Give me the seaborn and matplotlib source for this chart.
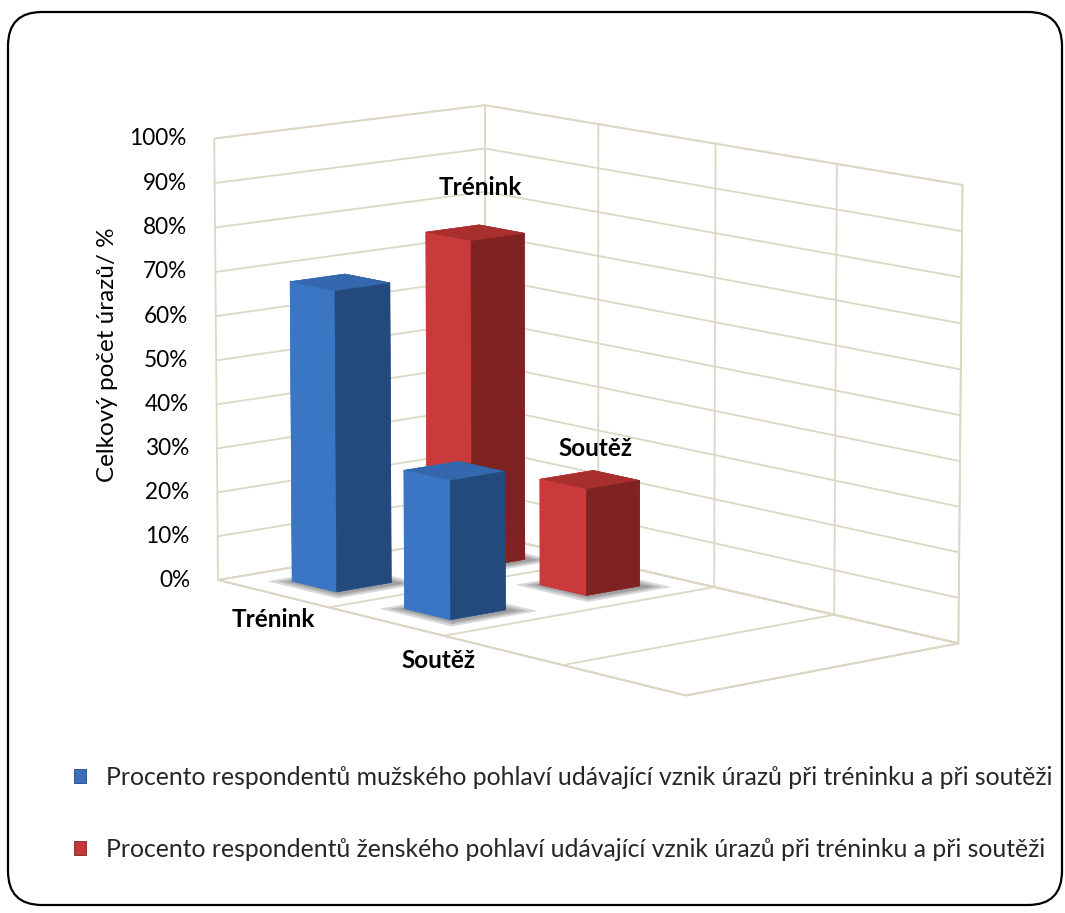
import numpy as np
import matplotlib
matplotlib.use("Agg")
import matplotlib.pyplot as plt
import seaborn as sns
from matplotlib.patches import FancyBboxPatch, Patch
from matplotlib.ticker import NullFormatter
from matplotlib.transforms import IdentityTransform
from mpl_toolkits.mplot3d import proj3d

# ---------------- data ----------------
categories = ["Trénink", "Soutěž"]
series_labels = [
    "Procento respondentů mužského pohlaví udávající vznik úrazů při tréninku a při soutěži",
    "Procento respondentů ženského pohlaví udávající vznik úrazů při tréninku a při soutěži",
]
male_share = [0.68, 0.31]
female_share = [0.75, 0.24]
z_ticks = [0.0, 0.1, 0.2, 0.3, 0.4, 0.5, 0.6, 0.7, 0.8, 0.9, 1.0]
z_tick_labels = ["0%", "10%", "20%", "30%", "40%", "50%", "60%", "70%", "80%", "90%", "100%"]
y_title = "Celkový počet úrazů/ %"

# ---------------- style ----------------
sns.set_theme(style="white")
plt.rcParams["font.family"] = ["Lato", "DejaVu Sans"]
grid_color = "#ddd7c3"
plt.rcParams["grid.color"] = grid_color
plt.rcParams["grid.linewidth"] = 1.3
plt.rcParams["grid.linestyle"] = "-"

blue = {"top": "#3467ae", "front": "#3a76c4", "side": "#24497c", "key": "#3a70b9"}
red = {"top": "#a92f2f", "front": "#cb3a3a", "side": "#7e2222", "key": "#c63636"}
series_style = [blue, red]

W, H = 1065, 913
fig = plt.figure(figsize=(W / 100, H / 100), dpi=100, facecolor="white")

ax = fig.add_axes([0.1, 0.2, 0.8, 0.8], projection="3d")
ax.patch.set_visible(False)
ax.computed_zorder = False
ax.set_proj_type("persp", focal_length=1.6)
ax.view_init(elev=10.3, azim=-41)

n_slots = 4          # category slots along the front edge
n_rows = 2           # series rows in depth
ax.set_xlim(0, n_slots)
ax.set_ylim(0, n_rows)
ax.set_zlim(0, 1)
ax.set_box_aspect((2.0, 1.0, 1.27))

ax.set_xticks(range(n_slots + 1))
ax.set_yticks([0, n_rows])
ax.set_zticks(z_ticks)
for axis in (ax.xaxis, ax.yaxis, ax.zaxis):
    axis.set_major_formatter(NullFormatter())
for a in ("x", "y", "z"):
    ax.tick_params(axis=a, colors=(0, 0, 0, 0))

for axis in (ax.xaxis, ax.yaxis, ax.zaxis):
    axis.set_pane_color((1, 1, 1, 1))
    axis.pane.set_edgecolor(grid_color)
    axis.pane.set_linewidth(1.3)
    axis.line.set_color((0, 0, 0, 0))
    axis._axinfo["grid"].update(color=grid_color, linewidth=1.3)
ax.zaxis.pane.set_edgecolor("#c9c5b6")


def face_colors(c):
    # bar3d face order: -z, +z, -y, +y, -x, +x
    return [c["front"], c["top"], c["front"], c["side"], c["front"], c["side"]]


bar_w = 0.4
shadow_w = [0.62, 0.54, 0.47]
# back row is drawn first so the front row covers it
for row, values in reversed(list(enumerate([male_share, female_share]))):
    fc = face_colors(series_style[row])
    for i, v in enumerate(values):
        cx, cy = i + 0.5, row + 0.5
        # soft contact shadow on the floor
        for sw in shadow_w:
            ax.bar3d(cx - sw / 2 + 0.03, cy - sw / 2, 0, sw, sw, 0.001,
                     color="#3a3a3a", alpha=0.10, linewidth=0,
                     shade=False, zorder=2)
        ax.bar3d(cx - bar_w / 2, cy - bar_w / 2, 0, bar_w, bar_w, v,
                 color=fc, edgecolor=fc, linewidth=0.4, shade=False,
                 zorder=3 + (1 - row))

fig.text(107 / W, 1 - 355 / H, y_title, rotation=90, ha="center",
         va="center", fontsize=17.5, color="black")

handles = [Patch(facecolor=s["key"], edgecolor=s["side"], linewidth=0.6)
           for s in series_style]
fig.legend(handles, series_labels, loc="upper left",
           bbox_to_anchor=(74 / W, 1 - 766 / H), bbox_transform=fig.transFigure,
           frameon=False, fontsize=17.8, handlelength=0.5, handleheight=0.5,
           handletextpad=0.8, labelspacing=1.97, borderpad=0, borderaxespad=0)

# rounded outer frame
frame = FancyBboxPatch((8, 8), 1054, 893, boxstyle="round,pad=0,rounding_size=34",
                       transform=IdentityTransform(), fill=False,
                       edgecolor="black", linewidth=1.6)
fig.add_artist(frame)

# place the 3D box: least-squares fit of a few box corners to their spots
fig.canvas.draw()


def to_px(x, y, z):
    xs, ys, _ = proj3d.proj_transform(x, y, z, ax.get_proj())
    return ax.transData.transform((xs, ys))


corners = [(0, 0, 0), (0, 0, 1), (0, n_rows, 0), (0, n_rows, 1),
           (n_slots, n_rows, 0), (n_slots, n_rows, 1), (n_slots, 0, 0)]
spots = [(215, 577), (215, 137), (490, 553), (490, 105),
         (960, 640), (960, 180), (680, 690)]
rows, rhs = [], []
for c, (tx, ty) in zip(corners, spots):
    px, py = to_px(*c)
    rows.append([1, 0, px]); rhs.append(tx)
    rows.append([0, 1, py]); rhs.append(H - ty)
cx_, cy_, s = np.linalg.lstsq(np.array(rows, float), np.array(rhs, float), rcond=None)[0]
bb = ax.get_position()
o = np.array([bb.x0 * W, bb.y0 * H])
size = np.array([bb.width * W, bb.height * H])
o_new = np.array([cx_, cy_]) + s * o
ax.set_position([o_new[0] / W, o_new[1] / H, s * size[0] / W, s * size[1] / H])
fig.canvas.draw()


def label_at(x, y, z, text, dx=0.0, dy=0.0, **kw):
    # put a flat label at the screen spot of a 3D data point
    px, py = to_px(x, y, z)
    fig.text((px + dx) / W, (py + dy) / H, text, color="black", **kw)


# percentage scale on the front-left edge
for v, lab in zip(z_ticks, z_tick_labels):
    label_at(0, 0, v, lab, dx=-28, ha="right", va="center", fontsize=16.3)

# category names along the front edge
label_x = [0.5, 1.95]
for cx, lab in zip(label_x, categories):
    label_at(cx, 0, 0, lab, dy=-26, ha="center", va="center",
             fontsize=17.5, fontweight="bold")

# category names above the back-row bars
label_lift = [0.105, 0.075]
for i, (v, lab) in enumerate(zip(female_share, categories)):
    label_at(i + 0.55, 1.5, v + label_lift[i], lab, ha="center", va="center",
             fontsize=17.5, fontweight="bold")

fig.savefig("out.png", dpi=100, facecolor="white")
